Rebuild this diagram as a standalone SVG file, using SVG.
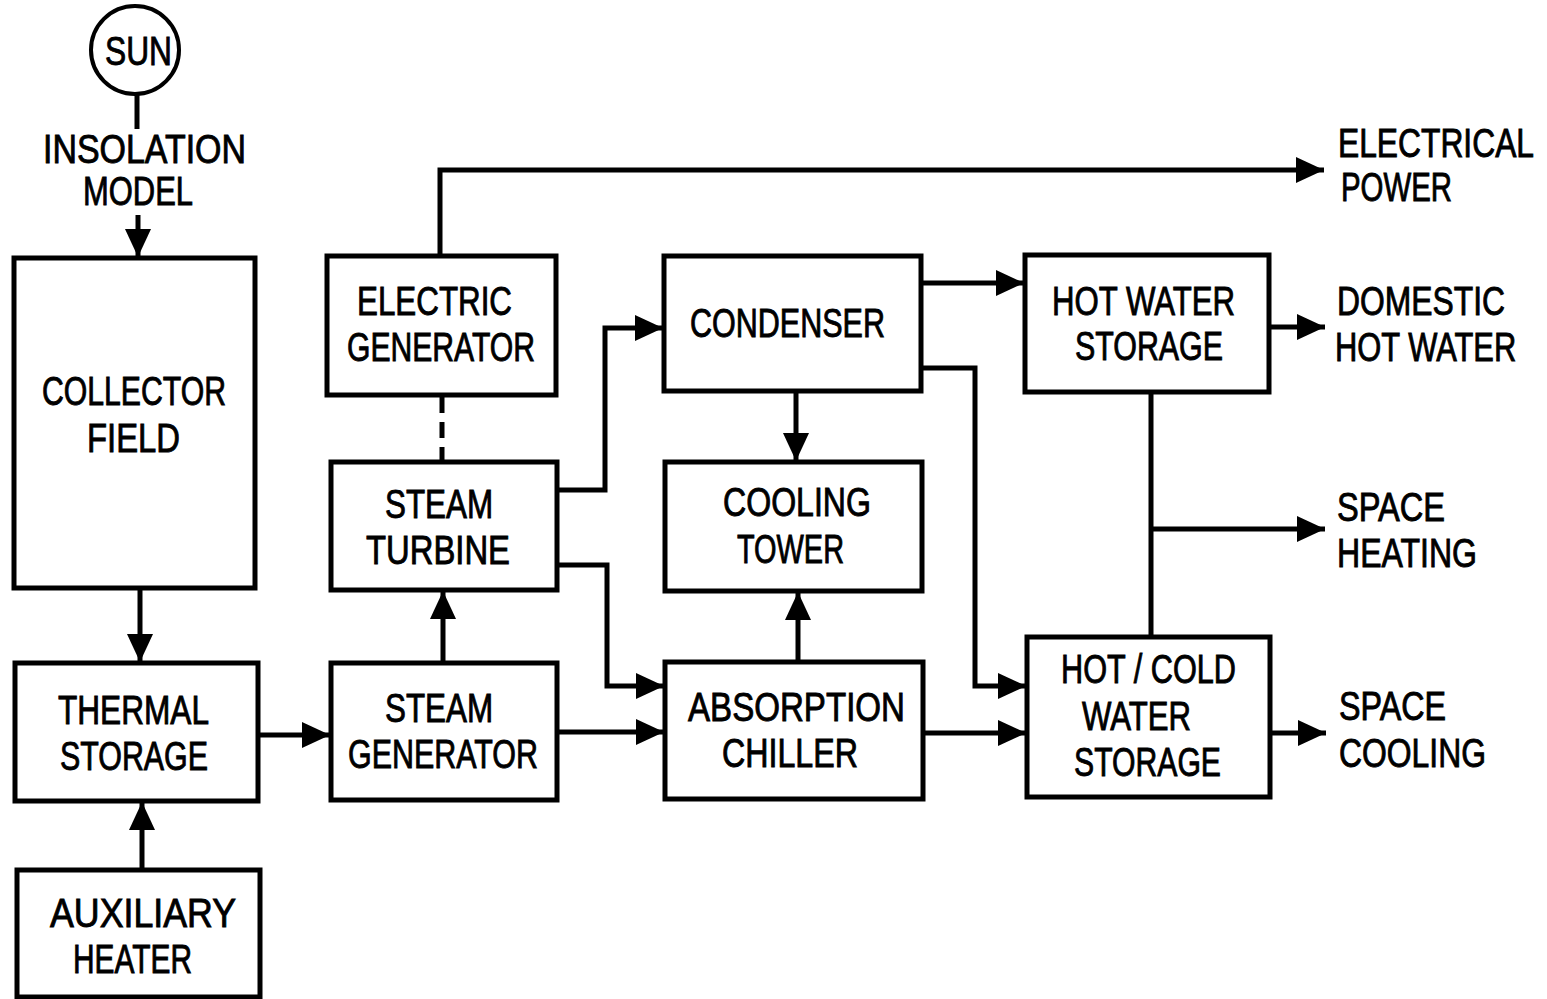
<svg xmlns="http://www.w3.org/2000/svg" width="1547" height="999" viewBox="0 0 1547 999">
<style>
.box{fill:#fff;stroke:#000;stroke-width:5}
.ln{fill:none;stroke:#000;stroke-width:5}
text{font-family:"Liberation Sans",Arial,sans-serif;font-size:40px;fill:#000;stroke:#000;stroke-width:0.9}
</style>
<defs>
<marker id="ah" markerUnits="userSpaceOnUse" markerWidth="30" markerHeight="26" refX="28" refY="13" orient="auto">
<path d="M0,0 L28,13 L0,26 Z" fill="#000"/>
</marker>
</defs>
<rect width="1547" height="999" fill="#fff"/>
<g id="connectors">
<line class="ln" x1="137" y1="94" x2="137" y2="129"/>
<line class="ln" x1="138" y1="215" x2="138" y2="257" marker-end="url(#ah)"/>
<line class="ln" x1="140" y1="588" x2="140" y2="662" marker-end="url(#ah)"/>
<line class="ln" x1="142" y1="870" x2="142" y2="802" marker-end="url(#ah)"/>
<line class="ln" x1="258" y1="735" x2="330" y2="735" marker-end="url(#ah)"/>
<line class="ln" x1="443" y1="663" x2="443" y2="591" marker-end="url(#ah)"/>
<line class="ln" x1="442" y1="397" x2="442" y2="462" stroke-dasharray="16,9"/>
<polyline class="ln" points="440,256 440,170 1324,170" marker-end="url(#ah)"/>
<polyline class="ln" points="557,490 605,490 605,328 663,328" marker-end="url(#ah)"/>
<polyline class="ln" points="557,565 607,565 607,686 664,686" marker-end="url(#ah)"/>
<line class="ln" x1="557" y1="732" x2="664" y2="732" marker-end="url(#ah)"/>
<line class="ln" x1="796" y1="391" x2="796" y2="461" marker-end="url(#ah)"/>
<line class="ln" x1="798" y1="662" x2="798" y2="592" marker-end="url(#ah)"/>
<line class="ln" x1="921" y1="283" x2="1024" y2="283" marker-end="url(#ah)"/>
<polyline class="ln" points="921,368 975,368 975,686 1026,686" marker-end="url(#ah)"/>
<line class="ln" x1="923" y1="733" x2="1026" y2="733" marker-end="url(#ah)"/>
<line class="ln" x1="1269" y1="327" x2="1325" y2="327" marker-end="url(#ah)"/>
<line class="ln" x1="1151" y1="392" x2="1151" y2="637"/>
<line class="ln" x1="1151" y1="529" x2="1325" y2="529" marker-end="url(#ah)"/>
<line class="ln" x1="1270" y1="733" x2="1326" y2="733" marker-end="url(#ah)"/>
</g>
<g id="sun">
<circle cx="135" cy="50" r="44" fill="#fff" stroke="#000" stroke-width="4"/>
<text x="105" y="65" textLength="67" lengthAdjust="spacingAndGlyphs" font-size="38">SUN</text>
</g>
<g id="insolation">
<text x="43" y="163" textLength="203" lengthAdjust="spacingAndGlyphs">INSOLATION</text>
<text x="83" y="205" textLength="110" lengthAdjust="spacingAndGlyphs">MODEL</text>
</g>
<g id="collector">
<rect class="box" x="14" y="258" width="241" height="330"/>
<text x="42" y="405" textLength="184" lengthAdjust="spacingAndGlyphs">COLLECTOR</text>
<text x="87" y="452" textLength="93" lengthAdjust="spacingAndGlyphs">FIELD</text>
</g>
<g id="thermal">
<rect class="box" x="15" y="663" width="243" height="138"/>
<text x="58" y="724" textLength="151" lengthAdjust="spacingAndGlyphs">THERMAL</text>
<text x="60" y="770" textLength="148" lengthAdjust="spacingAndGlyphs">STORAGE</text>
</g>
<g id="auxiliary">
<rect class="box" x="17" y="870" width="243" height="127"/>
<text x="50" y="927" textLength="186" lengthAdjust="spacingAndGlyphs">AUXILIARY</text>
<text x="73" y="973" textLength="119" lengthAdjust="spacingAndGlyphs">HEATER</text>
</g>
<g id="electric-generator">
<rect class="box" x="327" y="256" width="229" height="139"/>
<text x="357" y="315" textLength="155" lengthAdjust="spacingAndGlyphs">ELECTRIC</text>
<text x="347" y="361" textLength="188" lengthAdjust="spacingAndGlyphs">GENERATOR</text>
</g>
<g id="steam-turbine">
<rect class="box" x="331" y="462" width="226" height="128"/>
<text x="385" y="518" textLength="108" lengthAdjust="spacingAndGlyphs">STEAM</text>
<text x="366" y="564" textLength="144" lengthAdjust="spacingAndGlyphs">TURBINE</text>
</g>
<g id="steam-generator">
<rect class="box" x="331" y="663" width="226" height="137"/>
<text x="385" y="722" textLength="108" lengthAdjust="spacingAndGlyphs">STEAM</text>
<text x="348" y="768" textLength="190" lengthAdjust="spacingAndGlyphs">GENERATOR</text>
</g>
<g id="condenser">
<rect class="box" x="664" y="256" width="257" height="135"/>
<text x="690" y="337" textLength="195" lengthAdjust="spacingAndGlyphs">CONDENSER</text>
</g>
<g id="cooling-tower">
<rect class="box" x="665" y="462" width="257" height="129"/>
<text x="723" y="516" textLength="148" lengthAdjust="spacingAndGlyphs">COOLING</text>
<text x="737" y="563" textLength="107" lengthAdjust="spacingAndGlyphs">TOWER</text>
</g>
<g id="absorption-chiller">
<rect class="box" x="665" y="662" width="258" height="137"/>
<text x="688" y="721" textLength="217" lengthAdjust="spacingAndGlyphs">ABSORPTION</text>
<text x="722" y="767" textLength="136" lengthAdjust="spacingAndGlyphs">CHILLER</text>
</g>
<g id="hot-water-storage">
<rect class="box" x="1025" y="255" width="244" height="137"/>
<text x="1052" y="315" textLength="183" lengthAdjust="spacingAndGlyphs">HOT WATER</text>
<text x="1075" y="360" textLength="148" lengthAdjust="spacingAndGlyphs">STORAGE</text>
</g>
<g id="hot-cold-water-storage">
<rect class="box" x="1027" y="637" width="243" height="160"/>
<text x="1061" y="683" textLength="175" lengthAdjust="spacingAndGlyphs">HOT / COLD</text>
<text x="1082" y="730" textLength="109" lengthAdjust="spacingAndGlyphs">WATER</text>
<text x="1074" y="776" textLength="147" lengthAdjust="spacingAndGlyphs">STORAGE</text>
</g>
<g id="electrical-power">
<text transform="translate(1338 157) scale(0.8 1)" x="0" y="0" textLength="245" lengthAdjust="spacingAndGlyphs">ELECTRICAL</text>
<text x="1341" y="201" textLength="111" lengthAdjust="spacingAndGlyphs">POWER</text>
</g>
<g id="domestic-hot-water">
<text x="1337" y="315" textLength="168" lengthAdjust="spacingAndGlyphs">DOMESTIC</text>
<text transform="translate(1335 361) scale(0.755 1)" x="0" y="0" textLength="240" lengthAdjust="spacingAndGlyphs">HOT WATER</text>
</g>
<g id="space-heating">
<text x="1337" y="521" textLength="108" lengthAdjust="spacingAndGlyphs">SPACE</text>
<text x="1337" y="567" textLength="140" lengthAdjust="spacingAndGlyphs">HEATING</text>
</g>
<g id="space-cooling">
<text x="1339" y="720" textLength="107" lengthAdjust="spacingAndGlyphs">SPACE</text>
<text x="1339" y="767" textLength="147" lengthAdjust="spacingAndGlyphs">COOLING</text>
</g>
</svg>
